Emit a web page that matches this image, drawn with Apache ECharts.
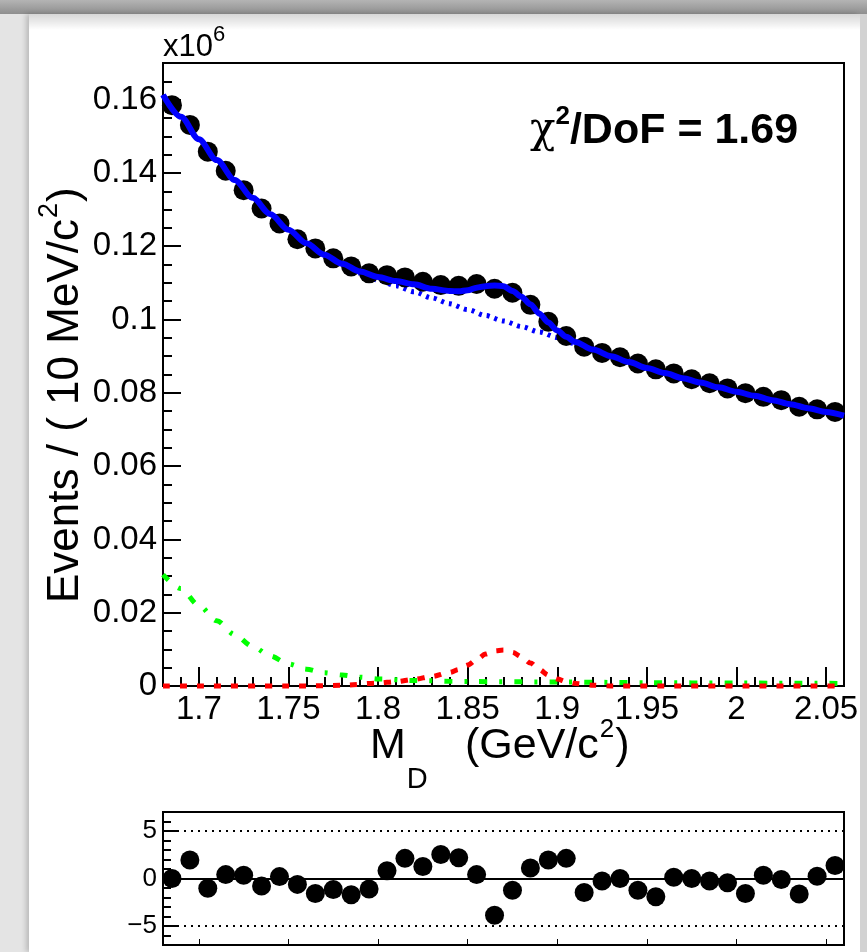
<!DOCTYPE html>
<html><head><meta charset="utf-8">
<script src="https://cdn.jsdelivr.net/npm/echarts@6/dist/echarts.min.js"></script>
<style>
html,body{margin:0;padding:0;width:867px;height:952px;overflow:hidden;background:#e4e4e4;}
#topband{position:absolute;left:0;top:0;width:867px;height:14px;background:linear-gradient(#b4b4b4,#8e8e8e);}
#panel{position:absolute;left:29px;top:14px;width:831px;height:938px;background:#fff;box-shadow:-3px 0 5px rgba(0,0,0,0.18);}
#panelshade{position:absolute;left:29px;top:14px;width:831px;height:16px;background:linear-gradient(rgba(0,0,0,0.16),rgba(0,0,0,0));}
#rightstrip{position:absolute;left:860px;top:14px;width:7px;height:938px;background:#d2d2d2;}
#chart{position:absolute;left:0;top:0;width:867px;height:952px;}
</style></head>
<body>
<div id="topband"></div><div id="panel"></div><div id="panelshade"></div><div id="rightstrip"></div>
<div id="chart"></div>
<script>
// ---- data (event counts in units of 10^6) ----
const massBins = [1.685,1.695,1.705,1.715,1.725,1.735,1.745,1.755,1.765,1.775,1.785,1.795,1.805,1.815,1.825,1.835,1.845,1.855,1.865,1.875,1.885,1.895,1.905,1.915,1.925,1.935,1.945,1.955,1.965,1.975,1.985,1.995,2.005,2.015,2.025,2.035,2.045,2.055];
const dataEvents = [0.1585,0.1531,0.1458,0.1406,0.1353,0.1303,0.1262,0.1219,0.1194,0.1167,0.1145,0.1126,0.1121,0.1115,0.1103,0.1094,0.1092,0.1097,0.1084,0.1073,0.1040,0.0994,0.0955,0.0926,0.0909,0.0897,0.0880,0.0864,0.0853,0.0837,0.0826,0.0812,0.0799,0.0789,0.0780,0.0762,0.0755,0.0748];
const pulls = [0,1.95,-1.03,0.41,0.34,-0.79,0.2,-0.62,-1.58,-1.16,-1.71,-1.1,0.82,2.12,1.27,2.53,2.19,0.41,-3.87,-1.23,1.1,1.95,2.12,-1.47,-0.27,0,-1.23,-1.92,0.14,0,-0.27,-0.45,-1.58,0.34,-0.1,-1.64,0.24,1.37];

const fitMass = [1.68,1.69,1.70,1.71,1.72,1.73,1.74,1.75,1.76,1.77,1.78,1.79,1.80,1.81,1.82,1.83,1.84,1.845,1.85,1.855,1.86,1.865,1.87,1.875,1.88,1.885,1.89,1.895,1.90,1.905,1.91,1.92,1.93,1.94,1.95,1.96,1.97,1.98,1.99,2.00,2.01,2.02,2.03,2.04,2.05,2.06];
const fitTotal = [0.1613,0.1553,0.1492,0.1435,0.1381,0.1332,0.1287,0.1245,0.1208,0.1177,0.1152,0.1131,0.1116,0.1105,0.1096,0.1084,0.1078,0.1077,0.1080,0.1087,0.1091,0.1093,0.1091,0.1078,0.1062,0.1042,0.1016,0.0992,0.0970,0.0953,0.0939,0.0918,0.0900,0.0884,0.0868,0.0854,0.0840,0.0828,0.0815,0.0803,0.0792,0.0780,0.0769,0.0758,0.0748,0.0738];

const bkgMass = [1.68,1.69,1.70,1.71,1.72,1.73,1.74,1.75,1.76,1.77,1.78,1.79,1.80,1.81,1.82,1.83,1.84,1.85,1.86,1.87,1.88,1.89,1.90,1.91,1.92,1.93,1.94,1.95,1.96,1.97,1.98,1.99,2.00,2.01,2.02,2.03,2.04,2.05,2.06];
const bkgCurve = [0.1613,0.1553,0.1492,0.1435,0.1381,0.1332,0.1287,0.1245,0.1208,0.1176,0.1150,0.1127,0.1108,0.1092,0.1076,0.1059,0.1043,0.1027,0.1011,0.0996,0.0981,0.0966,0.0951,0.0934,0.0917,0.0900,0.0884,0.0868,0.0854,0.0840,0.0828,0.0815,0.0803,0.0792,0.0780,0.0769,0.0758,0.0748,0.0738];

const signalMass = [1.68,1.76,1.78,1.80,1.81,1.82,1.83,1.84,1.845,1.85,1.855,1.86,1.865,1.87,1.875,1.88,1.885,1.89,1.895,1.90,1.905,1.91,1.92,1.93,2.06];
const signalCurve = [0,0,0.0002,0.0008,0.0012,0.0018,0.0026,0.0037,0.0045,0.0057,0.0072,0.0087,0.0096,0.0098,0.0092,0.0080,0.0063,0.0045,0.0030,0.0019,0.0012,0.0007,0.0002,0,0];

const peakBkgMass = [1.68,1.69,1.70,1.71,1.72,1.73,1.74,1.75,1.76,1.77,1.78,1.79,1.80,1.82,1.85,1.90,1.95,2.00,2.06];
const peakBkgCurve = [0.0304,0.0266,0.0220,0.0178,0.0140,0.0108,0.0082,0.0060,0.0046,0.0036,0.0030,0.0024,0.0019,0.0015,0.0012,0.0011,0.0009,0.0008,0.0007];

// ---- axes / tick labels ----
const xMin = 1.68, xMax = 2.06;
const xMajor = [1.7,1.75,1.8,1.85,1.9,1.95,2,2.05];
const xMajorLabels = ['1.7','1.75','1.8','1.85','1.9','1.95','2','2.05'];
const yMin = 0, yMax = 0.17;
const yMajor = [0,0.02,0.04,0.06,0.08,0.1,0.12,0.14,0.16];
const yMajorLabels = ['0','0.02','0.04','0.06','0.08','0.1','0.12','0.14','0.16'];
const pullMin = -7, pullMax = 7;
const pullMajor = [-5,0,5];
const pullMajorLabels = ['\u22125','0','5'];
const pullRefLines = [-5,0,5];

function minorTicks(lo, hi, step, majors){
  const out = [];
  const n = Math.round((hi - lo) / step);
  for (let i = 0; i <= n; i++) {
    const v = +(lo + i * step).toFixed(6);
    if (!majors.some(m => Math.abs(m - v) < 1e-9)) out.push(v);
  }
  return out;
}
const xMinor = minorTicks(1.68, 2.06, 0.01, xMajor);
const yMinor = minorTicks(0, 0.165, 0.005, yMajor);
const pullMinor = minorTicks(-7, 7, 1, pullMajor);

function lookup(v, vals, labels){
  for (let i = 0; i < vals.length; i++) if (Math.abs(vals[i] - v) < 1e-9) return labels[i];
  return '';
}
const zip = (a, b) => a.map((x, i) => [x, b[i]]);

// ---- text helpers ----
const mctx = document.createElement('canvas').getContext('2d');
const FAM = '"Liberation Sans", Arial, sans-serif';
function seq(x0, base, parts){
  let x = x0; const els = [];
  parts.forEach(p => {
    const font = (p.weight || 'normal') + ' ' + p.size + 'px ' + (p.family || FAM);
    mctx.font = font;
    const w = mctx.measureText(p.text).width;
    x += (p.gap || 0);
    els.push({type:'text', x: x, y: base + (p.shift || 0) - 0.35 * p.size, silent:true,
      style:{text:p.text, font:font, fill:'#000', align:'left', verticalAlign:'middle'}});
    x += w;
  });
  return els;
}

const black = '#000';
const tickStyle = {color: black, width: 2};
const lblFont = {fontFamily: FAM, color: black};

const graphics = [].concat(
  seq(163, 58, [{text:'x10', size:31}, {text:'6', size:22, shift:-15}]),
  seq(530, 146, [{text:'\u03c7', size:42, family:'"DejaVu Serif", "Liberation Serif", serif'}, {text:'2', size:26, shift:-20, weight:'bold'}, {text:'/DoF = 1.69', size:43, weight:'bold'}]),
  seq(370, 761, [{text:'M', size:43}, {text:'D', size:29, shift:29, gap:1}]),
  seq(465, 761, [{text:'(GeV/c', size:43}, {text:'2', size:26, shift:-22, gap:1}, {text:')', size:43, gap:1}]),
  [{type:'group', x:81, y:603, rotation:Math.PI/2, silent:true,
    children: seq(0, 0, [{text:'Events / ( 10 MeV/c', size:44}, {text:'2', size:27, shift:-22, gap:1}, {text:')', size:44, gap:1}])}]
);

const chart = echarts.init(document.getElementById('chart'), null, {renderer:'canvas'});
const option = {
  animation: false,
  backgroundColor: 'transparent',
  grid: [
    {left:163, top:63, width:681, height:623, show:true, borderColor:black, borderWidth:2, backgroundColor:'transparent', containLabel:false, outerBoundsMode:'none'},
    {left:163, top:812, width:681, height:133, show:true, borderColor:black, borderWidth:2, backgroundColor:'transparent', containLabel:false, outerBoundsMode:'none'}
  ],
  xAxis: [
    {gridIndex:0, type:'value', position:'bottom', min:xMin, max:xMax,
     axisLine:{show:true, onZero:false, lineStyle:tickStyle},
     axisTick:{show:true, inside:true, length:19, customValues:xMajor, lineStyle:tickStyle},
     axisLabel:{show:true, customValues:xMajor, formatter:v => lookup(v, xMajor, xMajorLabels), fontSize:33, margin:7, ...lblFont},
     splitLine:{show:false}},
    {gridIndex:0, type:'value', position:'bottom', min:xMin, max:xMax,
     axisLine:{show:false, onZero:false},
     axisTick:{show:true, inside:true, length:9, customValues:xMinor, lineStyle:tickStyle},
     axisLabel:{show:false}, splitLine:{show:false}},
    {gridIndex:1, type:'value', position:'bottom', min:xMin, max:xMax,
     axisLine:{show:true, onZero:false, lineStyle:tickStyle},
     axisTick:{show:true, inside:true, length:6, customValues:xMajor, lineStyle:{color:black, width:1}},
     axisLabel:{show:false}, splitLine:{show:false}}
  ],
  yAxis: [
    {gridIndex:0, type:'value', position:'left', min:yMin, max:yMax,
     axisLine:{show:true, onZero:false, lineStyle:tickStyle},
     axisTick:{show:true, inside:true, length:18, customValues:yMajor, lineStyle:tickStyle},
     axisLabel:{show:true, customValues:yMajor, formatter:v => lookup(v, yMajor, yMajorLabels), fontSize:33, margin:6, ...lblFont},
     splitLine:{show:false}},
    {gridIndex:0, type:'value', position:'left', min:yMin, max:yMax,
     axisLine:{show:false, onZero:false},
     axisTick:{show:true, inside:true, length:9, customValues:yMinor, lineStyle:tickStyle},
     axisLabel:{show:false}, splitLine:{show:false}},
    {gridIndex:1, type:'value', position:'left', min:pullMin, max:pullMax,
     axisLine:{show:true, onZero:false, lineStyle:tickStyle},
     axisTick:{show:true, inside:true, length:16, customValues:pullMajor, lineStyle:tickStyle},
     axisLabel:{show:true, customValues:pullMajor, formatter:v => lookup(v, pullMajor, pullMajorLabels), fontSize:26, margin:6, ...lblFont},
     splitLine:{show:false}},
    {gridIndex:1, type:'value', position:'left', min:pullMin, max:pullMax,
     axisLine:{show:false, onZero:false},
     axisTick:{show:true, inside:true, length:8, customValues:pullMinor, lineStyle:tickStyle},
     axisLabel:{show:false}, splitLine:{show:false}}
  ],
  series: [
    {type:'line', name:'peaking bkg', xAxisIndex:0, yAxisIndex:0, data:zip(peakBkgMass, peakBkgCurve),
     showSymbol:false, smooth:0.3, smoothMonotone:'x', clip:false, silent:true, z:3,
     lineStyle:{color:'#00ff00', width:5, type:[8,12,3,12], cap:'butt'}},
    {type:'line', name:'signal', xAxisIndex:0, yAxisIndex:0, data:zip(signalMass, signalCurve),
     showSymbol:false, smooth:0.3, smoothMonotone:'x', clip:false, silent:true, z:3,
     lineStyle:{color:'#ff0000', width:5, type:[7,10], cap:'butt'}},
    {type:'line', name:'background', xAxisIndex:0, yAxisIndex:0, data:zip(bkgMass, bkgCurve),
     showSymbol:false, smooth:0.3, smoothMonotone:'x', silent:true, z:2,
     lineStyle:{color:'#0000ff', width:5, type:[3,5], cap:'butt'}},
    {type:'scatter', name:'data', xAxisIndex:0, yAxisIndex:0, data:zip(massBins, dataEvents),
     symbol:'circle', symbolSize:20, silent:true, z:4, itemStyle:{color:black, opacity:1}},
    {type:'line', name:'fit', xAxisIndex:0, yAxisIndex:0, data:zip(fitMass, fitTotal),
     showSymbol:false, smooth:0.3, smoothMonotone:'x', silent:true, z:5,
     lineStyle:{color:'#0000ff', width:6}},
    {type:'scatter', name:'pull', xAxisIndex:2, yAxisIndex:2, data:zip(massBins, pulls),
     symbol:'circle', symbolSize:19, silent:true, z:4, itemStyle:{color:black, opacity:1},
     markLine:{silent:true, symbol:'none', label:{show:false},
       data: pullRefLines.map(v => ({yAxis:v, lineStyle:{color:black, width:2, type: v === 0 ? 'solid' : [2,5]}}))}}
  ],
  graphic: graphics
};
chart.setOption(option);
</script>
</body></html>
